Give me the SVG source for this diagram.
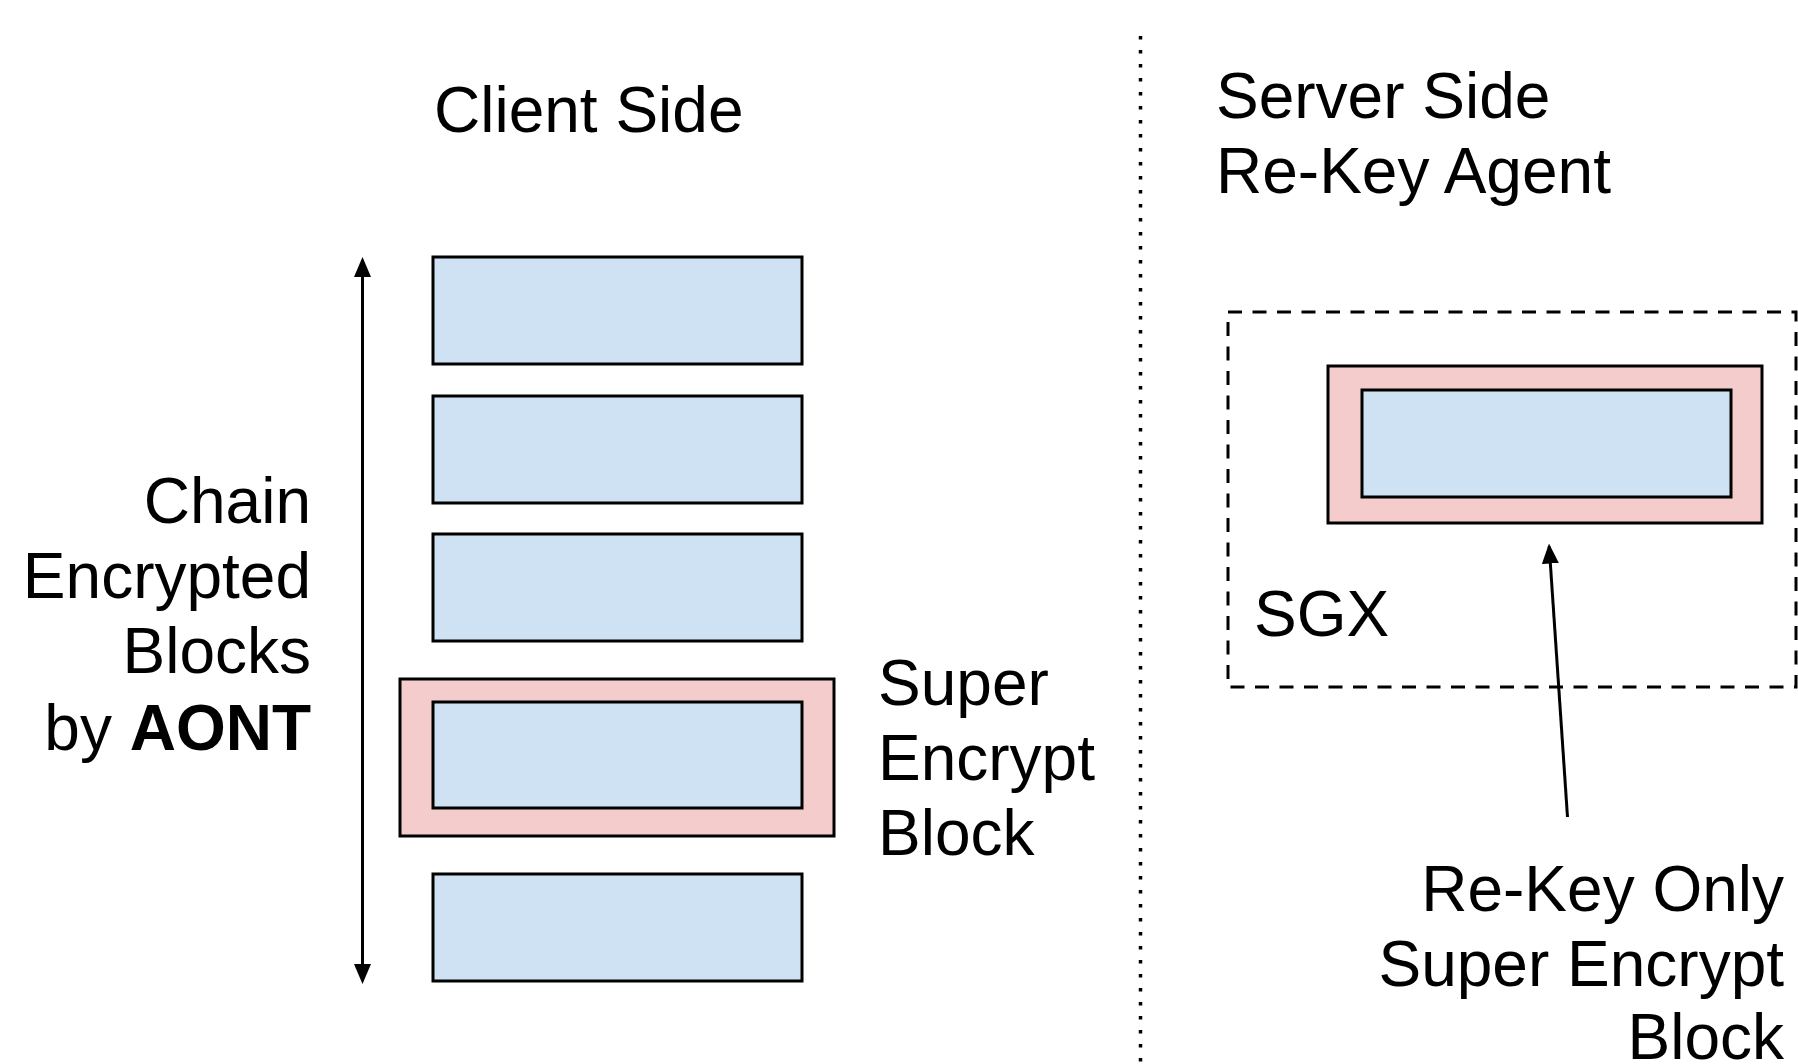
<svg xmlns="http://www.w3.org/2000/svg" width="1798" height="1064" viewBox="0 0 1798 1064">
<defs>
<style>
.blk{fill:#cfe2f3;stroke:#000;stroke-width:3}
.sup{fill:#f4cccc;stroke:#000;stroke-width:3}
.t{font-family:"Liberation Sans",Arial,sans-serif;font-size:64px;fill:#000}
.ln{stroke:#000;stroke-width:3;fill:none}
</style>
<marker id="ah" viewBox="0 0 20 17" refX="17" refY="8.5" markerWidth="20" markerHeight="17" markerUnits="userSpaceOnUse" orient="auto-start-reverse">
<path d="M0,0 L20,8.5 L0,17 Z" fill="#000"/>
</marker>
</defs>
<rect width="1798" height="1064" fill="#fff"/>
<g id="divider">
<line x1="1140.5" y1="36" x2="1140.5" y2="1064" stroke="#000" stroke-width="3.5" stroke-dasharray="3.5 10.5"/>
</g>
<g id="titles">
<text class="t" x="434" y="132">Client Side</text>
<text class="t" x="1216" y="118">Server Side</text>
<text class="t" x="1216" y="193">Re-Key Agent</text>
</g>
<g id="chain-label">
<text class="t" text-anchor="end" x="311" y="523">Chain</text>
<text class="t" text-anchor="end" x="311" y="598">Encrypted</text>
<text class="t" text-anchor="end" x="311" y="673">Blocks</text>
<text class="t" text-anchor="end" x="311" y="750">by <tspan font-weight="bold">AONT</tspan></text>
</g>
<g id="block1"><rect class="blk" x="433" y="257" width="369" height="107"/></g>
<g id="block2"><rect class="blk" x="433" y="396" width="369" height="107"/></g>
<g id="block3"><rect class="blk" x="433" y="534" width="369" height="107"/></g>
<g id="super-block">
<rect class="sup" x="400" y="679" width="434" height="157"/>
<rect class="blk" x="433" y="702" width="369" height="106"/>
</g>
<g id="block5"><rect class="blk" x="433" y="874" width="369" height="107"/></g>
<g id="super-label">
<text class="t" x="878" y="705">Super</text>
<text class="t" x="878" y="780">Encrypt</text>
<text class="t" x="878" y="855">Block</text>
</g>
<g id="sgx">
<rect x="1228" y="312" width="568" height="375" fill="none" stroke="#000" stroke-width="3" stroke-dasharray="14 10.5"/>
<text class="t" x="1254" y="636">SGX</text>
</g>
<g id="rekey-block">
<rect class="sup" x="1328" y="366" width="434" height="157"/>
<rect class="blk" x="1362" y="390" width="369" height="107"/>
</g>
<g id="rekey-label">
<text class="t" text-anchor="end" x="1784" y="911">Re-Key Only</text>
<text class="t" text-anchor="end" x="1784" y="986">Super Encrypt</text>
<text class="t" text-anchor="end" x="1784" y="1059">Block</text>
</g>
<g id="connectors">
<line class="ln" x1="362.5" y1="260" x2="362.5" y2="981" marker-start="url(#ah)" marker-end="url(#ah)"/>
<line class="ln" x1="1567.5" y1="817" x2="1549.2" y2="546.5" marker-end="url(#ah)"/>
</g>
</svg>
